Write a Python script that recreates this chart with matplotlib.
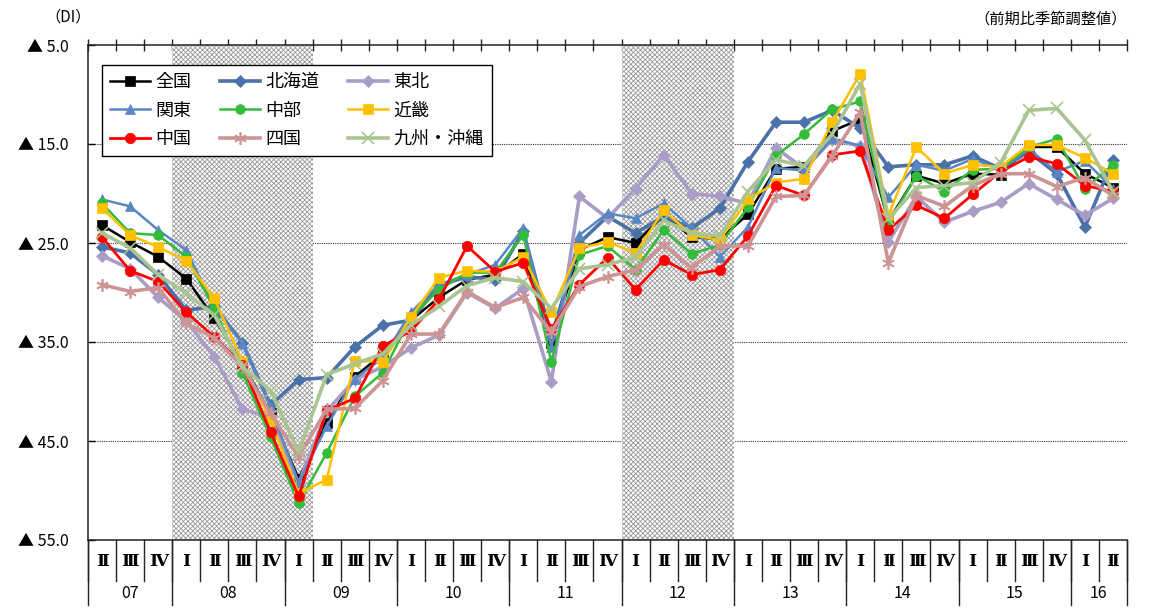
import matplotlib
matplotlib.use("Agg")
import matplotlib.pyplot as plt
import matplotlib.transforms as mtransforms
import numpy as np

plt.rcParams['font.family'] = ['Noto Sans CJK JP', 'DejaVu Sans']
plt.rcParams['hatch.linewidth'] = 0.6

# 四半期ラベル (2007 II ～ 2016 II)
quarters = ['Ⅱ', 'Ⅲ', 'Ⅳ',
            'Ⅰ', 'Ⅱ', 'Ⅲ', 'Ⅳ', 'Ⅰ', 'Ⅱ', 'Ⅲ', 'Ⅳ',
            'Ⅰ', 'Ⅱ', 'Ⅲ', 'Ⅳ', 'Ⅰ', 'Ⅱ', 'Ⅲ', 'Ⅳ',
            'Ⅰ', 'Ⅱ', 'Ⅲ', 'Ⅳ', 'Ⅰ', 'Ⅱ', 'Ⅲ', 'Ⅳ',
            'Ⅰ', 'Ⅱ', 'Ⅲ', 'Ⅳ', 'Ⅰ', 'Ⅱ', 'Ⅲ', 'Ⅳ',
            'Ⅰ', 'Ⅱ']
years = ['07', '08', '09', '10', '11', '12', '13', '14', '15', '16']
year_len = [3, 4, 4, 4, 4, 4, 4, 4, 4, 2]

# 景気後退期（網掛け）: 開始四半期の位置と長さ
shade_start = [3, 19]
shade_len = [5, 4]

# DI（▲値、マイナス幅）
zenkoku = [23.2, 24.9, 26.4, 28.6, 32.6, 37.2, 42.2, 48.8, 43.2, 38.5, 36.2, 32.8,
           30.5, 28.7, 28.2, 26.1, 35.1, 25.7, 24.4, 25.0, 22.2, 24.4, 24.6, 22.1,
           17.5, 17.3, 13.7, 12.5, 22.8, 18.2, 19.0, 18.0, 18.1, 15.3, 15.3, 18.0, 19.4]
hokkaido = [25.4, 26.0, 28.2, 31.8, 31.4, 35.1, 41.4, 38.8, 38.6, 35.5, 33.3, 32.8,
            29.3, 28.4, 28.7, 23.8, 34.5, 25.0, 22.3, 24.0, 22.3, 23.5, 21.5, 16.8,
            12.8, 12.8, 11.6, 13.4, 17.3, 17.1, 17.1, 16.2, 17.5, 15.8, 18.0, 23.4, 16.6]
tohoku = [26.3, 27.6, 30.5, 32.9, 36.5, 41.8, 42.6, 49.3, 42.0, 38.8, 37.5, 35.6,
          34.3, 30.0, 31.6, 29.6, 39.0, 20.3, 22.5, 19.5, 16.1, 20.0, 20.3, 21.0,
          15.4, 17.5, 14.6, 15.2, 24.9, 20.3, 22.9, 21.8, 20.9, 19.0, 20.6, 22.2, 20.5]
kanto = [20.6, 21.3, 23.7, 25.7, 31.6, 35.1, 41.6, 49.2, 43.5, 38.7, 36.6, 32.0,
         29.2, 28.2, 27.2, 23.5, 35.5, 24.2, 22.0, 22.5, 21.0, 23.5, 26.4, 23.4,
         17.4, 17.7, 14.4, 15.2, 20.4, 17.1, 17.7, 16.5, 17.6, 15.5, 17.8, 16.7, 19.5]
chubu = [21.0, 24.0, 24.2, 26.4, 31.6, 38.1, 44.6, 51.3, 46.2, 40.5, 38.1, 32.5,
         29.7, 28.0, 28.0, 24.2, 37.0, 26.2, 25.3, 27.7, 23.7, 26.1, 25.2, 21.4,
         16.2, 14.0, 11.5, 10.7, 23.0, 18.2, 19.8, 17.6, 17.5, 15.3, 14.5, 19.5, 17.1]
kinki = [21.5, 24.2, 25.4, 26.8, 30.6, 37.0, 42.9, 50.3, 48.9, 36.9, 37.0, 32.5,
         28.5, 27.8, 27.9, 26.4, 32.0, 25.5, 24.9, 26.0, 21.7, 24.2, 24.7, 20.6,
         18.9, 18.5, 12.8, 7.9, 22.2, 15.3, 18.0, 17.1, 17.3, 15.1, 15.1, 16.4, 18.0]
chugoku = [24.4, 27.8, 28.9, 32.0, 34.5, 37.3, 44.1, 50.6, 41.9, 40.7, 35.4, 33.9,
           30.7, 25.3, 27.9, 27.0, 33.7, 29.2, 26.5, 29.7, 26.7, 28.2, 27.7, 24.3,
           19.2, 20.2, 16.1, 15.7, 23.7, 21.2, 22.5, 20.1, 17.8, 16.3, 17.0, 19.2, 19.8]
shikoku = [29.2, 29.9, 29.5, 33.1, 34.6, 37.5, 42.2, 46.6, 41.8, 41.7, 38.9, 34.2,
           34.2, 29.9, 31.5, 30.5, 34.0, 29.4, 28.4, 27.7, 25.2, 27.5, 25.3, 25.3,
           20.3, 20.2, 16.2, 11.8, 27.0, 20.2, 21.3, 19.2, 18.0, 18.0, 19.3, 18.4, 20.2]
kyushu = [24.0, 25.5, 28.2, 30.1, 32.3, 37.5, 39.9, 46.1, 38.3, 37.2, 36.2, 33.3,
          31.4, 29.3, 28.5, 28.9, 31.6, 27.6, 27.2, 26.4, 22.7, 24.0, 24.3, 19.8,
          16.6, 17.2, 14.0, 8.9, 22.6, 19.4, 19.2, 18.9, 16.9, 11.6, 11.4, 14.6, 19.8]

fig = plt.figure(figsize=(11.5, 6.15), dpi=100)
ax = fig.add_axes([88 / 1150, 1 - 540 / 615, (1127 - 88) / 1150, 495 / 615])

n = len(quarters)
x = np.arange(n) + 0.5

# 網掛け
for s, l in zip(shade_start, shade_len):
    ax.axvspan(s, s + l, facecolor='white', edgecolor='#9a9a9a', hatch='xxxxxxx',
               linewidth=0, zorder=1)

# グリッド
for v in [15, 25, 35, 45]:
    ax.axhline(v, color='#333333', linestyle=(0, (1, 1)), linewidth=0.8, zorder=0.5)

ast = (6, 2, 0)
series = [
    ('全国', zenkoku, '#000000', 's', 7, 1.8),
    ('北海道', hokkaido, '#4a72a8', 'D', 6.5, 2.6),
    ('東北', tohoku, '#a99cc6', 'D', 6.5, 2.6),
    ('関東', kanto, '#5a87c4', '^', 7, 1.8),
    ('中部', chubu, '#33bb3a', 'o', 7, 1.8),
    ('近畿', kinki, '#ffc000', 's', 7.5, 1.8),
    ('中国', chugoku, '#ff0000', 'o', 7.5, 2.0),
    ('四国', shikoku, '#cc9494', ast, 9, 2.6),
    ('九州・沖縄', kyushu, '#aac492', 'x', 8, 2.6),
]
handles = {}
for i, (name, vals, col, mk, ms, lw) in enumerate(series):
    h, = ax.plot(x, vals, color=col, marker=mk, markersize=ms, linewidth=lw,
                 markeredgewidth=1.2 if mk in ('x', ast) else 0.5,
                 markeredgecolor=col, label=name, zorder=3 + i * 0.1)
    handles[name] = h

order = ['全国', '関東', '中国', '北海道', '中部', '四国', '東北', '近畿', '九州・沖縄']
leg = ax.legend([handles[k] for k in order], order, ncol=3, loc='upper left',
                bbox_to_anchor=(14 / 1039, 1 - 20 / 495), borderaxespad=0,
                frameon=True, fancybox=False, edgecolor='black', framealpha=1,
                fontsize=13, handlelength=2.2, handletextpad=0.3,
                columnspacing=1.6, labelspacing=0.58, borderpad=0.45)
leg.get_frame().set_linewidth(1.0)
leg.set_zorder(10)

ax.set_xlim(0, n)
ax.set_ylim(55, 5)
ax.set_yticks([5, 15, 25, 35, 45, 55])
ax.set_yticklabels(['▲ %.1f' % v for v in [5, 15, 25, 35, 45, 55]], fontsize=11.5)
ax.tick_params(axis='y', direction='in', length=5, width=1, pad=14)
ax.set_xticks([])
ax.spines['right'].set_visible(False)
for sp in ['left', 'top', 'bottom']:
    ax.spines[sp].set_linewidth(1.1)
    ax.spines[sp].set_color('#222222')

# 上辺の目盛り
secx = ax.secondary_xaxis('top')
secx.set_xticks(np.arange(n + 1))
secx.set_xticklabels([])
secx.tick_params(direction='inout', length=8, width=1, color='#222222')
secx.spines['top'].set_visible(False)

# 下の表（四半期・年）
trans = mtransforms.blended_transform_factory(ax.transData, ax.transAxes)
q_bot = -41 / 495
y_bot = -65 / 495
for k in range(n + 1):
    ax.plot([k, k], [0, q_bot], transform=trans, color='#222222', linewidth=1,
            clip_on=False)
for k, q in enumerate(quarters):
    ax.text(k + 0.5, -22 / 495, q, transform=trans, ha='center', va='center',
            fontsize=12.5, fontweight='bold',
            family=['DejaVu Serif', 'Noto Sans CJK JP'])
pos = 0
bounds = [0]
for yr, l in zip(years, year_len):
    ax.text(pos + l / 2, -54 / 495, yr, transform=trans, ha='center', va='center',
            fontsize=11.5)
    pos += l
    bounds.append(pos)
for b in bounds:
    ax.plot([b, b], [0, y_bot], transform=trans, color='#222222', linewidth=1,
            clip_on=False)

fig.text(45 / 1150, 1 - 17 / 615, '（DI）', fontsize=11, va='center', ha='left')
fig.text(1127 / 1150, 1 - 19 / 615, '（前期比季節調整値）', fontsize=11,
         va='center', ha='right')

fig.savefig('out.png', dpi=100)
